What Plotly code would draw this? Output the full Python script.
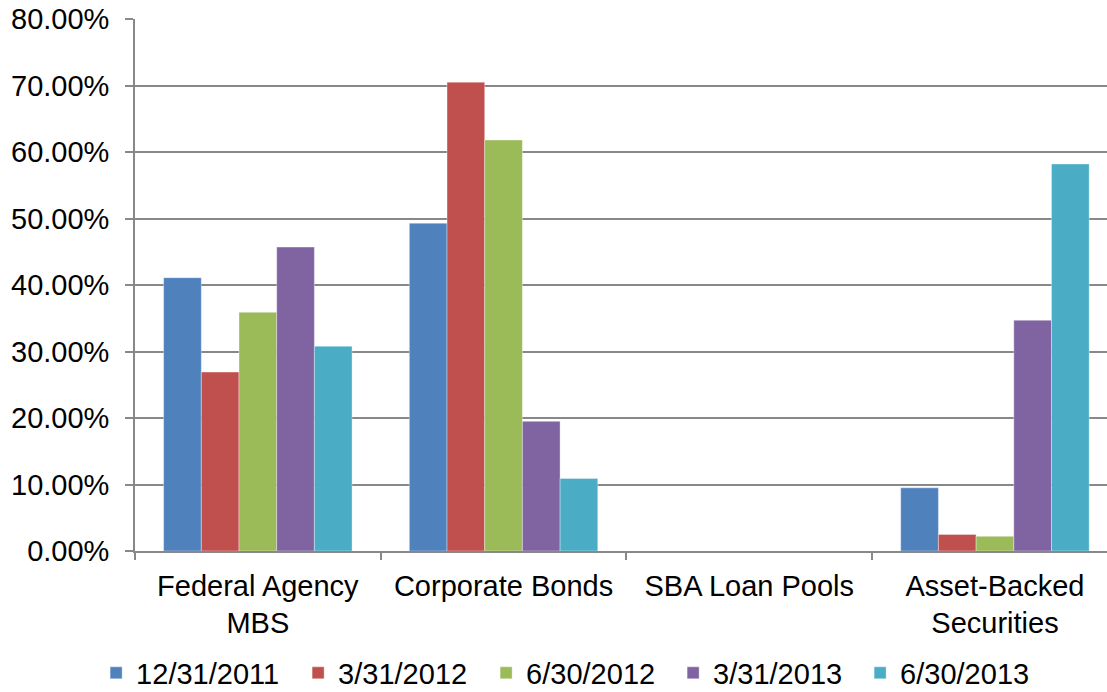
import plotly.graph_objects as go

# Categories and reporting dates
categories = ["Federal Agency<br>MBS", "Corporate Bonds", "SBA Loan Pools", "Asset-Backed<br>Securities"]
dates = ["12/31/2011", "3/31/2012", "6/30/2012", "3/31/2013", "6/30/2013"]

# Portfolio share (%) by category for each date
share_12_31_2011 = [41.1, 49.3, 0.0, 9.5]
share_3_31_2012 = [26.9, 70.5, 0.0, 2.5]
share_6_30_2012 = [35.9, 61.8, 0.0, 2.2]
share_3_31_2013 = [45.7, 19.5, 0.0, 34.7]
share_6_30_2013 = [30.8, 10.9, 0.0, 58.2]

series = [share_12_31_2011, share_3_31_2012, share_6_30_2012, share_3_31_2013, share_6_30_2013]
colors = ["#4F81BD", "#C0504D", "#9BBB59", "#8064A2", "#4BACC6"]
legend_widths = [157, 143, 142, 142, 142]

FONT = "Liberation Sans, Arial, sans-serif"
FS = 29
GRID = "#888888"

fig = go.Figure()
for name, vals, col, lw in zip(dates, series, colors, legend_widths):
    fig.add_trace(go.Bar(
        x=categories, y=vals, name=name,
        marker=dict(color=col, line=dict(color="rgba(255,255,255,0.45)", width=0.8)),
        legendwidth=lw,
    ))

fig.update_layout(
    width=1107, height=692,
    margin=dict(l=135, r=0, t=19, b=141, autoexpand=False),
    paper_bgcolor="white", plot_bgcolor="white",
    font=dict(family=FONT, size=FS, color="black"),
    barmode="group", bargap=0.233, bargroupgap=0,
    showlegend=True,
    legend=dict(
        orientation="h", x=-0.04, xanchor="left", y=-0.2293, yanchor="middle",
        font=dict(family=FONT, size=FS, color="black"),
        bgcolor="rgba(0,0,0,0)", itemclick=False,
    ),
    xaxis=dict(
        range=[-0.5, 3.456], tickson="boundaries",
        ticks="outside", ticklen=7, tickcolor=GRID, tickwidth=1.6,
        showline=True, linecolor=GRID, linewidth=1.6,
        showgrid=False, tickfont=dict(size=FS), ticklabelstandoff=8,
    ),
    yaxis=dict(
        range=[0, 80], dtick=10, tickformat=".2f", ticksuffix="%",
        ticks="outside", ticklen=8, tickcolor=GRID, tickwidth=1.6,
        showline=True, linecolor=GRID, linewidth=1.6,
        showgrid=True, gridcolor=GRID, gridwidth=1.6,
        zeroline=False, tickfont=dict(size=FS), ticklabelstandoff=10,
    ),
)

fig.write_html("out.html")
